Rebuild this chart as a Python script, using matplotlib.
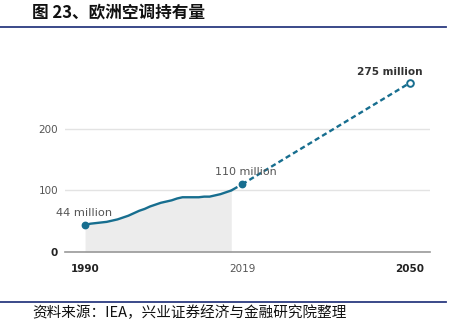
import numpy as np
import matplotlib.pyplot as plt
from matplotlib.lines import Line2D

plt.rcParams['font.family'] = ['DejaVu Sans']
cjk = ['Noto Sans CJK SC', 'DejaVu Sans']

# historical stock (million units), solid part
years_hist = [1990, 1991, 1992, 1993, 1994, 1995, 1996, 1997, 1998, 1999,
              2000, 2001, 2002, 2003, 2004, 2005, 2006, 2007, 2008, 2009,
              2010, 2011, 2012, 2013, 2014, 2015, 2016, 2017]
stock_hist = [44, 46, 47, 48, 49, 51, 53, 56, 59, 63,
              67, 70, 74, 77, 80, 82, 84, 87, 89, 89,
              89, 89, 90, 90, 92, 94, 97, 100]
# bridge to 2019 and projection to 2050
years_bridge = [2017, 2019]
stock_bridge = [100, 110]
years_proj = [2019, 2050]
stock_proj = [110, 275]

yticks = [0, 100, 200]
xticks = [1990, 2019, 2050]

teal = '#176e8f'
grey_txt = '#555555'

fig = plt.figure(figsize=(4.67, 3.22), dpi=100)
ax = fig.add_axes([65 / 467, 70 / 322, 365 / 467, 178.4 / 322])

ax.fill_between(years_hist, stock_hist, 0, color='#ececec', lw=0)
ax.plot(years_hist, stock_hist, color=teal, lw=1.7, solid_capstyle='round')
ax.plot(years_bridge, stock_bridge, color=teal, lw=1.7, ls=(0, (3, 1.5, 1, 1.5)))
ax.plot(years_proj, stock_proj, color=teal, lw=1.7, ls=(0, (2.2, 1.4)))

ax.plot([years_hist[0]], [stock_hist[0]], 'o', color=teal, ms=4.6, zorder=5)
ax.plot([years_proj[0]], [stock_proj[0]], 'o', color=teal, ms=4.6, zorder=5)
ax.plot([years_proj[1]], [stock_proj[1]], 'o', mfc='white', mec=teal, mew=1.4,
        ms=4.8, zorder=5)

ax.text(1984.6, 63, '44 million', ha='left', va='center', fontsize=8.2, color=grey_txt)
ax.text(2014.0, 130, '110 million', ha='left', va='center', fontsize=8, color=grey_txt)
ax.text(2052.3, 293, '275 million', ha='right', va='center', fontsize=7.6,
        color='#333333', fontweight='bold', clip_on=False)

ax.set_xlim(1986.3, 2053.7)
ax.set_ylim(0, 290)
ax.set_yticks(yticks)
ax.set_yticklabels([str(v) for v in yticks])
ax.set_xticks(xticks)
ax.set_xticklabels([str(v) for v in xticks])
ax.grid(axis='y', color='#e3e3e3', lw=1)
ax.set_axisbelow(True)
for s in ['top', 'right', 'left']:
    ax.spines[s].set_visible(False)
ax.spines['bottom'].set_color('#999999')
ax.spines['bottom'].set_linewidth(1.2)
ax.tick_params(axis='both', length=0, labelsize=7.5, colors=grey_txt)
ax.tick_params(axis='y', pad=5)
ax.tick_params(axis='x', pad=9)
ylab = ax.get_yticklabels()
ylab[0].set_fontweight('bold')
ylab[0].set_color('#222222')
xlab = ax.get_xticklabels()
for i in (0, 2):
    xlab[i].set_fontweight('bold')
    xlab[i].set_color('#222222')

fig.text(32 / 467, 1 - 12.5 / 322, '图 23、欧洲空调持有量', family=cjk,
         fontsize=12, fontweight='bold', ha='left', va='center', color='#111111')
fig.add_artist(Line2D([0, 446 / 467], [1 - 26.5 / 322] * 2, color='#2b3a80', lw=1.3))
fig.add_artist(Line2D([0, 446 / 467], [1 - 302 / 322] * 2, color='#2b3a80', lw=1.3))
fig.text(32 / 467, 1 - 313 / 322, '资料来源：IEA，兴业证券经济与金融研究院整理', family=cjk,
         fontsize=10.5, ha='left', va='center', color='#111111')

fig.savefig('out.png', dpi=100)
